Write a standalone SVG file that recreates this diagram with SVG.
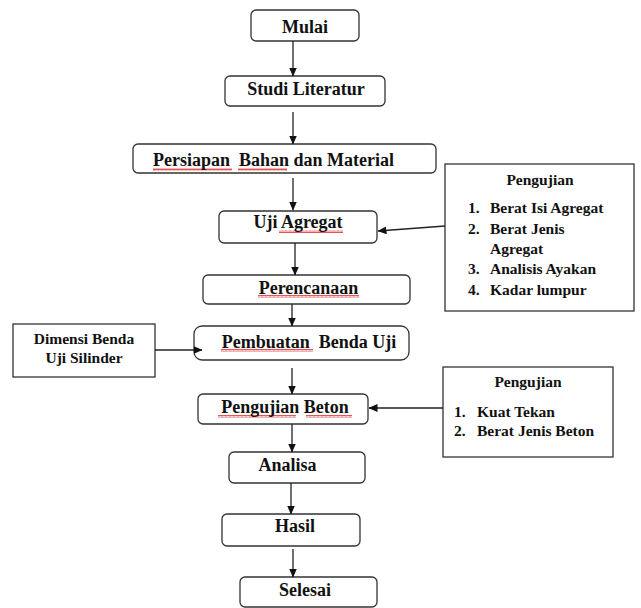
<svg xmlns="http://www.w3.org/2000/svg" width="641" height="608" viewBox="0 0 641 608">
<style>
text{font-family:'Liberation Serif','Times New Roman',Times,serif;font-weight:700}
.box{fill:#fff;stroke:#333;stroke-width:1.3}
.t{font-size:18px;fill:#111}
.s{font-size:15.5px;fill:#111}
.m{text-anchor:middle}
.c{fill:none;stroke:#222;stroke-width:1.3}
.sq{fill:url(#wave)}
</style>
<defs>
<marker id="ah" markerUnits="userSpaceOnUse" markerWidth="9" markerHeight="8" refX="8.5" refY="4" orient="auto">
<path d="M0,0 L9,4 L0,8 z" fill="#111"/>
</marker>
<pattern id="wave" patternUnits="userSpaceOnUse" width="4" height="3">
<path d="M0,2.5 L1,0.5 L2,2.5 L3,0.5 L4,2.5" fill="none" stroke="#e0282b" stroke-width="0.8"/>
</pattern>
</defs>
<rect width="641" height="608" fill="#fff"/>
<g id="mulai">
<rect class="box" x="251" y="10" width="108" height="31" rx="5"/>
<text class="t m" x="305" y="33">Mulai</text>
</g>
<g id="studi-literatur">
<rect class="box" x="225" y="76" width="160" height="30" rx="5"/>
<text class="t m" x="306" y="95">Studi Literatur</text>
</g>
<g id="persiapan">
<rect class="box" x="133" y="144" width="303" height="29" rx="5"/>
<rect class="sq" x="153" y="168" width="79" height="3"/>
<rect class="sq" x="238" y="168" width="49" height="3"/>
<text class="t" x="153" y="166" xml:space="preserve">Persiapan  Bahan dan Material</text>
</g>
<g id="uji-agregat">
<rect class="box" x="219" y="211" width="158" height="32" rx="5"/>
<rect class="sq" x="279" y="230" width="64" height="3"/>
<text class="t m" x="298" y="228">Uji Agregat</text>
</g>
<g id="pengujian-agregat">
<rect class="box" x="445" y="164" width="189" height="147"/>
<text class="s m" x="540" y="185">Pengujian</text>
<text class="s" x="468" y="213">1.</text><text class="s" x="490" y="213">Berat Isi Agregat</text>
<text class="s" x="468" y="234">2.</text><text class="s" x="490" y="234">Berat Jenis</text>
<text class="s" x="490" y="254">Agregat</text>
<text class="s" x="468" y="274">3.</text><text class="s" x="490" y="274">Analisis Ayakan</text>
<text class="s" x="468" y="295">4.</text><text class="s" x="490" y="295">Kadar lumpur</text>
</g>
<g id="perencanaan">
<rect class="box" x="203" y="275" width="207" height="29" rx="5"/>
<rect class="sq" x="258" y="295" width="101" height="3"/>
<text class="t m" x="308.5" y="294">Perencanaan</text>
</g>
<g id="dimensi">
<rect class="box" x="13" y="324" width="142" height="53"/>
<text class="s m" x="84" y="344">Dimensi Benda</text>
<text class="s m" x="84" y="363">Uji Silinder</text>
</g>
<g id="pembuatan">
<rect class="box" x="194" y="326" width="215" height="34" rx="8"/>
<rect class="sq" x="221" y="349" width="92" height="3"/>
<text class="t m" x="309" y="348" xml:space="preserve">Pembuatan  Benda Uji</text>
</g>
<g id="pengujian-beton">
<rect class="box" x="198" y="394" width="170" height="30" rx="5"/>
<rect class="sq" x="218" y="415" width="78" height="3"/>
<rect class="sq" x="306" y="415" width="46" height="3"/>
<text class="t m" x="285" y="413">Pengujian Beton</text>
</g>
<g id="pengujian-beton-list">
<rect class="box" x="443" y="367" width="170" height="90"/>
<text class="s m" x="528" y="387">Pengujian</text>
<text class="s" x="454" y="417">1.</text><text class="s" x="477" y="417">Kuat Tekan</text>
<text class="s" x="454" y="436">2.</text><text class="s" x="477" y="436">Berat Jenis Beton</text>
</g>
<g id="analisa">
<rect class="box" x="229" y="452" width="136" height="31" rx="5"/>
<text class="t m" x="287.5" y="471">Analisa</text>
</g>
<g id="hasil">
<rect class="box" x="222" y="514" width="138" height="32" rx="5"/>
<text class="t m" x="295" y="532">Hasil</text>
</g>
<g id="selesai">
<rect class="box" x="240" y="577" width="137" height="30" rx="5"/>
<text class="t m" x="305" y="596">Selesai</text>
</g>
<g id="connectors">
<path class="c" d="M293,41 V76" marker-end="url(#ah)"/>
<path class="c" d="M293,112 V144" marker-end="url(#ah)"/>
<path class="c" d="M293,178 V210" marker-end="url(#ah)"/>
<path class="c" d="M295,243 V275" marker-end="url(#ah)"/>
<path class="c" d="M292,304 V326" marker-end="url(#ah)"/>
<path class="c" d="M292,368 V394" marker-end="url(#ah)"/>
<path class="c" d="M292,424 V452" marker-end="url(#ah)"/>
<path class="c" d="M291,483 V514" marker-end="url(#ah)"/>
<path class="c" d="M293,549 V577" marker-end="url(#ah)"/>
<path class="c" d="M445,226 L378,231" marker-end="url(#ah)"/>
<path class="c" d="M155,350 L202,350" marker-end="url(#ah)"/>
<path class="c" d="M443,408 L369,408" marker-end="url(#ah)"/>
</g>
</svg>
